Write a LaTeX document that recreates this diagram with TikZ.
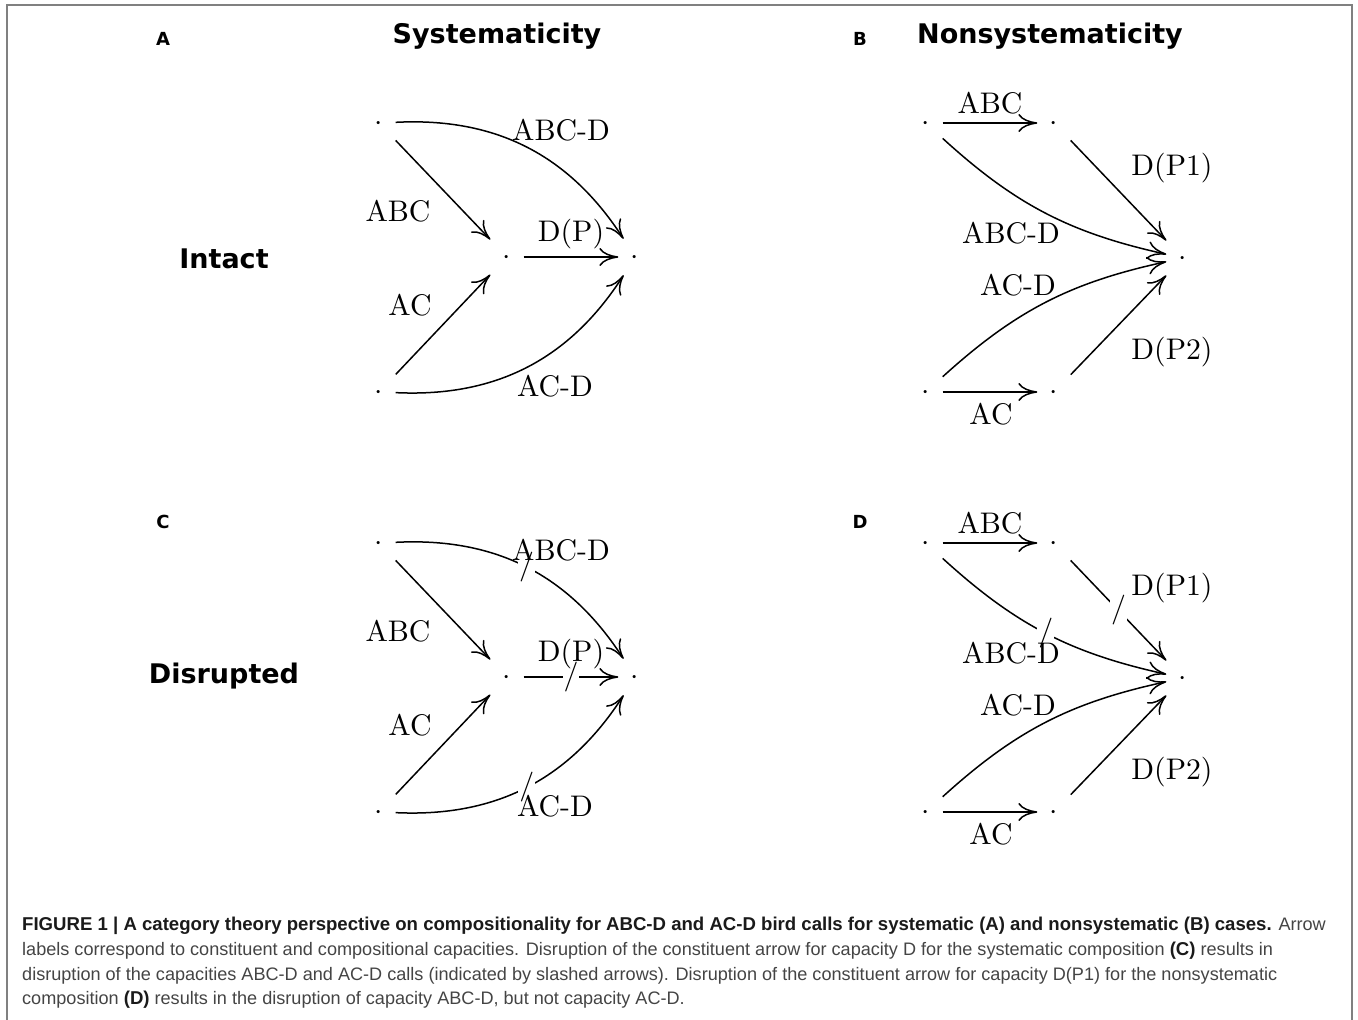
\RequirePackage{fix-cm}
\documentclass[tikz,border=0pt]{standalone}
\usepackage{fontspec}
\newfontfamily\headfont{DejaVu Sans}
\newfontfamily\capfont{Liberation Sans}
\newfontfamily\lblfont{lmroman10-regular}[Extension=.otf]
\usepackage{tikz}
\usetikzlibrary{arrows.meta}

\definecolor{framegray}{HTML}{808080}
\definecolor{captext}{HTML}{444444}
\definecolor{capbold}{HTML}{1A1A1A}

\newcommand{\lblsize}{\lblfont\fontsize{29.8}{36}\selectfont}
\newcommand{\capbf}[1]{{\fontsize{18.6}{21}\selectfont\bfseries\color{capbold}#1}}

\begin{document}
\begin{tikzpicture}[x=1pt,y=-1pt,
  obj/.style={inner sep=0pt,minimum width=33pt,minimum height=36pt,
    text height=14.9pt,text depth=0pt,font=\lblsize},
  lbl/.style={anchor=base,inner sep=0pt,font=\lblsize},
  arr/.style={line width=1.5pt,-{Computer Modern Rightarrow[length=19pt,width=18pt]}},
  cut/.style={fill=white,inner xsep=1pt,inner ysep=0pt,font=\lblsize},
  head/.style={anchor=base,inner sep=0pt,font=\headfont\bfseries\fontsize{27}{32}\selectfont},
  tag/.style={anchor=base,inner sep=0pt,font=\headfont\bfseries\fontsize{18}{22}\selectfont},
  capline/.style={anchor=base west,inner sep=0pt,text=captext,
    font=\capfont\fontsize{18.1}{21}\selectfont}]

% frame
\useasboundingbox (0,0) rectangle (1358,1020);
\draw[framegray,line width=1.4pt] (7,1020) -- (7,5) -- (1352,5) -- (1352,1020);

% headings
\node[tag] (tagA) at (163,45) {A};
\node[head] (hsys) at (497,43) {Systematicity};
\node[tag] (tagB) at (860,45) {B};
\node[head] (hnon) at (1050,43) {Nonsystematicity};
\node[head] (hint) at (224,268) {Intact};
\node[tag] (tagC) at (163,528) {C};
\node[tag] (tagD) at (860,528) {D};
\node[head] (hdis) at (224,683) {Disrupted};

% A: systematic, intact
\node[obj] (a1) at (379,123) {$\cdot$};
\node[obj] (a2) at (379,392) {$\cdot$};
\node[obj] (a3) at (507,257) {$\cdot$};
\node[obj] (a4) at (635,257) {$\cdot$};
\draw[arr] (a1) -- (a3);
\draw[arr] (a2) -- (a3);
\draw[arr] (a3) -- (a4);
\draw[arr] (a1) to[bend left=30] (a4);
\draw[arr] (a2) to[bend right=30] (a4);
\node[lbl] (la1) at (561,140) {ABC-D};
\node[lbl] (la2) at (398,221) {ABC};
\node[lbl] (la3) at (571,241) {D(P)};
\node[lbl] (la4) at (410,315) {AC};
\node[lbl] (la5) at (555,396) {AC-D};

% B: nonsystematic, intact
\node[obj] (b1) at (926,123) {$\cdot$};
\node[obj] (b2) at (1054,123) {$\cdot$};
\node[obj] (b3) at (926,392) {$\cdot$};
\node[obj] (b4) at (1054,392) {$\cdot$};
\node[obj] (b5) at (1183,258) {$\cdot$};
\draw[arr] (b1) -- (b2);
\draw[arr] (b3) -- (b4);
\draw[arr] (b2) -- (b5);
\draw[arr] (b4) -- (b5);
\draw[arr] (b1) to[bend right=15] (b5);
\draw[arr] (b3) to[bend left=15] (b5);
\node[lbl] (lb1) at (990,113) {ABC};
\node[lbl] (lb2) at (1172,175) {D(P1)};
\node[lbl] (lb3) at (1011,243) {ABC-D};
\node[lbl] (lb4) at (1018,295) {AC-D};
\node[lbl] (lb5) at (1172,359) {D(P2)};
\node[lbl] (lb6) at (991,424) {AC};

% C: systematic, disrupted
\node[obj] (c1) at (379,543) {$\cdot$};
\node[obj] (c2) at (379,812) {$\cdot$};
\node[obj] (c3) at (507,677) {$\cdot$};
\node[obj] (c4) at (635,677) {$\cdot$};
\draw[arr] (c1) -- (c3);
\draw[arr] (c2) -- (c3);
\draw[arr] (c3) -- node[cut] (cx1) {/} (c4);
\draw[arr] (c1) to[bend left=30] node[cut] (cx2) {/} (c4);
\draw[arr] (c2) to[bend right=30] node[cut] (cx3) {/} (c4);
\node[lbl] (lc1) at (561,560) {ABC-D};
\node[lbl] (lc2) at (398,641) {ABC};
\node[lbl] (lc3) at (571,661) {D(P)};
\node[lbl] (lc4) at (410,735) {AC};
\node[lbl] (lc5) at (555,816) {AC-D};

% D: nonsystematic, disrupted
\node[obj] (d1) at (926,543) {$\cdot$};
\node[obj] (d2) at (1054,543) {$\cdot$};
\node[obj] (d3) at (926,812) {$\cdot$};
\node[obj] (d4) at (1054,812) {$\cdot$};
\node[obj] (d5) at (1183,678) {$\cdot$};
\draw[arr] (d1) -- (d2);
\draw[arr] (d3) -- (d4);
\draw[arr] (d2) -- node[cut] (dx1) {/} (d5);
\draw[arr] (d4) -- (d5);
\draw[arr] (d1) to[bend right=15] node[cut] (dx2) {/} (d5);
\draw[arr] (d3) to[bend left=15] (d5);
\node[lbl] (ld1) at (990,533) {ABC};
\node[lbl] (ld2) at (1172,595) {D(P1)};
\node[lbl] (ld3) at (1011,663) {ABC-D};
\node[lbl] (ld4) at (1018,715) {AC-D};
\node[lbl] (ld5) at (1172,779) {D(P2)};
\node[lbl] (ld6) at (991,844) {AC};

% caption
\node[capline] (cap1) at (22,930) {\capbf{FIGURE 1 | A category theory perspective on compositionality for ABC-D and AC-D bird calls for systematic (A) and nonsystematic (B) cases.} Arrow};
\node[capline] (cap2) at (22,955) {labels correspond to constituent and compositional capacities. Disruption of the constituent arrow for capacity D for the systematic composition \capbf{(C)} results in};
\node[capline] (cap3) at (22,980) {disruption of the capacities ABC-D and AC-D calls (indicated by slashed arrows). Disruption of the constituent arrow for capacity D(P1) for the nonsystematic};
\node[capline] (cap4) at (22,1004) {composition \capbf{(D)} results in the disruption of capacity ABC-D, but not capacity AC-D.};
\end{tikzpicture}
\end{document}
